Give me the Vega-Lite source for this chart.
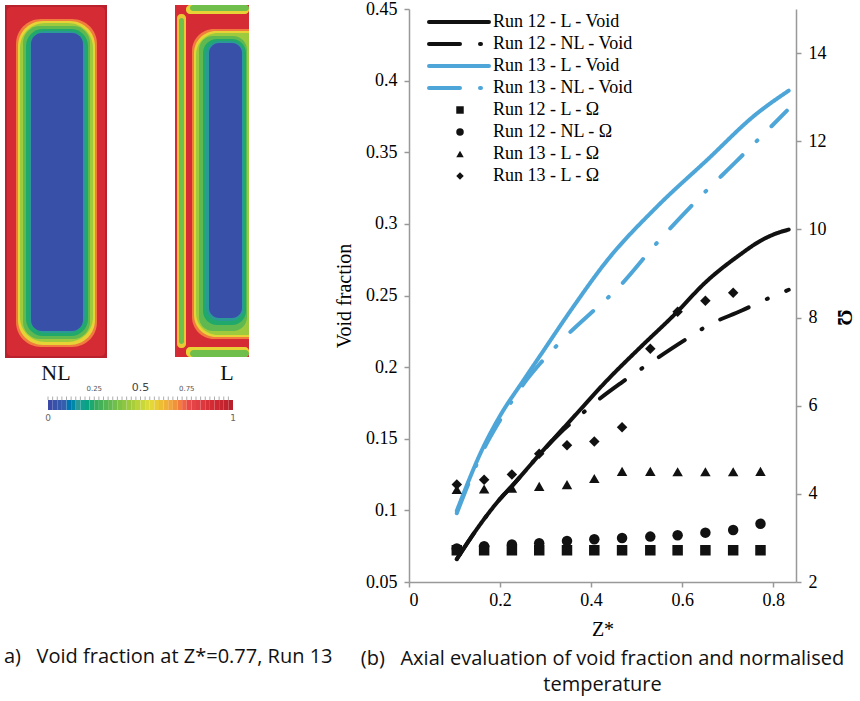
{
 "$schema": "https://vega.github.io/schema/vega-lite/v6.json",
 "padding": {"left": 0, "top": 0, "right": 2, "bottom": 8},
 "background": "white",
 "bounds": "flush",
 "spacing": 159,
 "config": {"view": {"stroke": null}, "title": {"font": "Open Sans", "fontSize": 20, "fontWeight": "normal", "color": "#111"}},
 "datasets": {
  "img": [
   {"grp": "g0", "x": 0.5, "x2": 10.7, "y": 0.5, "y2": 35.8, "v": 0.97},
   {"grp": "g0", "x": 17.5, "x2": 24.9, "y": 0.5, "y2": 35.7, "v": 0.87},
   {"grp": "g1", "x": 0.7, "x2": 10.5, "y": 0.7, "y2": 35.6, "v": 0.87},
   {"grp": "g1", "x": 17.7, "x2": 18.6, "y": 1.4, "y2": 34.8, "v": 0.58},
   {"grp": "g1", "x": 17.9, "x2": 18.4, "y": 1.8, "y2": 34.4, "v": 0.35},
   {"grp": "g1", "x": 18.6, "x2": 24.9, "y": 0.5, "y2": 1.4, "v": 0.56},
   {"grp": "g1", "x": 19.0, "x2": 24.9, "y": 0.5, "y2": 1.1, "v": 0.35},
   {"grp": "g1", "x": 18.6, "x2": 24.9, "y": 34.7, "y2": 35.7, "v": 0.56},
   {"grp": "g1", "x": 19.0, "x2": 24.9, "y": 35.0, "y2": 35.7, "v": 0.35},
   {"grp": "g2", "x": 1.6, "x2": 9.7, "y": 1.9, "y2": 34.7, "v": 0.7},
   {"grp": "g2", "x": 1.8, "x2": 9.5, "y": 2.1, "y2": 34.5, "v": 0.56},
   {"grp": "g2", "x": 2.0, "x2": 9.3, "y": 2.3, "y2": 34.2, "v": 0.43},
   {"grp": "g3", "x": 2.3, "x2": 9.0, "y": 2.6, "y2": 33.9, "v": 0.32},
   {"grp": "g3", "x": 2.6, "x2": 8.8, "y": 2.9, "y2": 33.6, "v": 0.23},
   {"grp": "g3", "x": 2.9, "x2": 8.5, "y": 3.1, "y2": 33.3, "v": 0.15},
   {"grp": "g4", "x": 3.1, "x2": 8.3, "y": 3.3, "y2": 33.1, "v": 0.02},
   {"grp": "g5", "x": 19.2, "x2": 24.9, "y": 2.9, "y2": 33.9, "v": 0.7},
   {"grp": "g5", "x": 19.4, "x2": 24.9, "y": 3.1, "y2": 33.7, "v": 0.56},
   {"grp": "g5", "x": 19.6, "x2": 24.9, "y": 3.3, "y2": 33.5, "v": 0.43},
   {"grp": "g6", "x": 19.9, "x2": 24.7, "y": 3.6, "y2": 33.1, "v": 0.32},
   {"grp": "g6", "x": 20.3, "x2": 24.6, "y": 3.9, "y2": 32.5, "v": 0.23},
   {"grp": "g6", "x": 20.6, "x2": 24.4, "y": 4.1, "y2": 32.1, "v": 0.15},
   {"grp": "g7", "x": 20.9, "x2": 24.2, "y": 4.3, "y2": 31.8, "v": 0.02}
  ],
  "cbar": [
   {"v": 0, "v2": 0.025}, {"v": 0.025, "v2": 0.05}, {"v": 0.05, "v2": 0.075}, {"v": 0.075, "v2": 0.1},
   {"v": 0.1, "v2": 0.125}, {"v": 0.125, "v2": 0.15}, {"v": 0.15, "v2": 0.175}, {"v": 0.175, "v2": 0.2},
   {"v": 0.2, "v2": 0.225}, {"v": 0.225, "v2": 0.25}, {"v": 0.25, "v2": 0.275}, {"v": 0.275, "v2": 0.3},
   {"v": 0.3, "v2": 0.325}, {"v": 0.325, "v2": 0.35}, {"v": 0.35, "v2": 0.375}, {"v": 0.375, "v2": 0.4},
   {"v": 0.4, "v2": 0.425}, {"v": 0.425, "v2": 0.45}, {"v": 0.45, "v2": 0.475}, {"v": 0.475, "v2": 0.5},
   {"v": 0.5, "v2": 0.525}, {"v": 0.525, "v2": 0.55}, {"v": 0.55, "v2": 0.575}, {"v": 0.575, "v2": 0.6},
   {"v": 0.6, "v2": 0.625}, {"v": 0.625, "v2": 0.65}, {"v": 0.65, "v2": 0.675}, {"v": 0.675, "v2": 0.7},
   {"v": 0.7, "v2": 0.725}, {"v": 0.725, "v2": 0.75}, {"v": 0.75, "v2": 0.775}, {"v": 0.775, "v2": 0.8},
   {"v": 0.8, "v2": 0.825}, {"v": 0.825, "v2": 0.85}, {"v": 0.85, "v2": 0.875}, {"v": 0.875, "v2": 0.9},
   {"v": 0.9, "v2": 0.925}, {"v": 0.925, "v2": 0.95}, {"v": 0.95, "v2": 0.975}, {"v": 0.975, "v2": 1}
  ],
  "lines": [
   {"series": "Run 12 - L - Void", "z": 0.105, "vf": 0.066}, {"series": "Run 12 - L - Void", "z": 0.135, "vf": 0.0805}, {"series": "Run 12 - L - Void", "z": 0.171, "vf": 0.0965}, {"series": "Run 12 - L - Void", "z": 0.2, "vf": 0.108}, {"series": "Run 12 - L - Void", "z": 0.229, "vf": 0.118}, {"series": "Run 12 - L - Void", "z": 0.288, "vf": 0.1395}, {"series": "Run 12 - L - Void", "z": 0.361, "vf": 0.165}, {"series": "Run 12 - L - Void", "z": 0.4345, "vf": 0.1906}, {"series": "Run 12 - L - Void", "z": 0.508, "vf": 0.2138}, {"series": "Run 12 - L - Void", "z": 0.581, "vf": 0.236}, {"series": "Run 12 - L - Void", "z": 0.654, "vf": 0.26}, {"series": "Run 12 - L - Void", "z": 0.727, "vf": 0.2785}, {"series": "Run 12 - L - Void", "z": 0.771, "vf": 0.288}, {"series": "Run 12 - L - Void", "z": 0.8, "vf": 0.2925}, {"series": "Run 12 - L - Void", "z": 0.834, "vf": 0.296},
   {"series": "Run 12 - NL - Void", "z": 0.105, "vf": 0.066}, {"series": "Run 12 - NL - Void", "z": 0.135, "vf": 0.0805}, {"series": "Run 12 - NL - Void", "z": 0.171, "vf": 0.0965}, {"series": "Run 12 - NL - Void", "z": 0.2, "vf": 0.108}, {"series": "Run 12 - NL - Void", "z": 0.229, "vf": 0.118}, {"series": "Run 12 - NL - Void", "z": 0.288, "vf": 0.1395}, {"series": "Run 12 - NL - Void", "z": 0.33, "vf": 0.1535}, {"series": "Run 12 - NL - Void", "z": 0.3795, "vf": 0.1673}, {"series": "Run 12 - NL - Void", "z": 0.409, "vf": 0.1754}, {"series": "Run 12 - NL - Void", "z": 0.4675, "vf": 0.1894}, {"series": "Run 12 - NL - Void", "z": 0.537, "vf": 0.2045}, {"series": "Run 12 - NL - Void", "z": 0.596, "vf": 0.2169}, {"series": "Run 12 - NL - Void", "z": 0.662, "vf": 0.23}, {"series": "Run 12 - NL - Void", "z": 0.731, "vf": 0.2395}, {"series": "Run 12 - NL - Void", "z": 0.768, "vf": 0.245}, {"series": "Run 12 - NL - Void", "z": 0.834, "vf": 0.254},
   {"series": "Run 13 - L - Void", "z": 0.105, "vf": 0.0997}, {"series": "Run 13 - L - Void", "z": 0.163, "vf": 0.144}, {"series": "Run 13 - L - Void", "z": 0.2, "vf": 0.166}, {"series": "Run 13 - L - Void", "z": 0.251, "vf": 0.1906}, {"series": "Run 13 - L - Void", "z": 0.288, "vf": 0.208}, {"series": "Run 13 - L - Void", "z": 0.361, "vf": 0.2422}, {"series": "Run 13 - L - Void", "z": 0.434, "vf": 0.274}, {"series": "Run 13 - L - Void", "z": 0.544, "vf": 0.3118}, {"series": "Run 13 - L - Void", "z": 0.654, "vf": 0.3444}, {"series": "Run 13 - L - Void", "z": 0.764, "vf": 0.377}, {"series": "Run 13 - L - Void", "z": 0.834, "vf": 0.393},
   {"series": "Run 13 - NL - Void", "z": 0.105, "vf": 0.098}, {"series": "Run 13 - NL - Void", "z": 0.163, "vf": 0.142}, {"series": "Run 13 - NL - Void", "z": 0.2, "vf": 0.163}, {"series": "Run 13 - NL - Void", "z": 0.251, "vf": 0.188}, {"series": "Run 13 - NL - Void", "z": 0.288, "vf": 0.2025}, {"series": "Run 13 - NL - Void", "z": 0.321, "vf": 0.2138}, {"series": "Run 13 - NL - Void", "z": 0.35, "vf": 0.2232}, {"series": "Run 13 - NL - Void", "z": 0.4015, "vf": 0.2383}, {"series": "Run 13 - NL - Void", "z": 0.432, "vf": 0.247}, {"series": "Run 13 - NL - Void", "z": 0.464, "vf": 0.257}, {"series": "Run 13 - NL - Void", "z": 0.537, "vf": 0.284}, {"series": "Run 13 - NL - Void", "z": 0.64, "vf": 0.319}, {"series": "Run 13 - NL - Void", "z": 0.72, "vf": 0.344}, {"series": "Run 13 - NL - Void", "z": 0.83, "vf": 0.379}
  ],
  "pts": [
   {"series": "Run 12 - L - Ω", "z": 0.105, "omega": 2.72}, {"series": "Run 12 - L - Ω", "z": 0.165, "omega": 2.72}, {"series": "Run 12 - L - Ω", "z": 0.226, "omega": 2.72}, {"series": "Run 12 - L - Ω", "z": 0.286, "omega": 2.72}, {"series": "Run 12 - L - Ω", "z": 0.347, "omega": 2.72}, {"series": "Run 12 - L - Ω", "z": 0.407, "omega": 2.72}, {"series": "Run 12 - L - Ω", "z": 0.468, "omega": 2.72}, {"series": "Run 12 - L - Ω", "z": 0.53, "omega": 2.72}, {"series": "Run 12 - L - Ω", "z": 0.59, "omega": 2.72}, {"series": "Run 12 - L - Ω", "z": 0.651, "omega": 2.72}, {"series": "Run 12 - L - Ω", "z": 0.712, "omega": 2.72}, {"series": "Run 12 - L - Ω", "z": 0.772, "omega": 2.72},
   {"series": "Run 12 - NL - Ω", "z": 0.105, "omega": 2.76}, {"series": "Run 12 - NL - Ω", "z": 0.165, "omega": 2.81}, {"series": "Run 12 - NL - Ω", "z": 0.226, "omega": 2.85}, {"series": "Run 12 - NL - Ω", "z": 0.286, "omega": 2.88}, {"series": "Run 12 - NL - Ω", "z": 0.347, "omega": 2.93}, {"series": "Run 12 - NL - Ω", "z": 0.407, "omega": 2.97}, {"series": "Run 12 - NL - Ω", "z": 0.468, "omega": 3.0}, {"series": "Run 12 - NL - Ω", "z": 0.53, "omega": 3.03}, {"series": "Run 12 - NL - Ω", "z": 0.59, "omega": 3.06}, {"series": "Run 12 - NL - Ω", "z": 0.651, "omega": 3.12}, {"series": "Run 12 - NL - Ω", "z": 0.712, "omega": 3.18}, {"series": "Run 12 - NL - Ω", "z": 0.772, "omega": 3.32},
   {"series": "Run 13 - L - Ω", "z": 0.105, "omega": 4.1}, {"series": "Run 13 - L - Ω", "z": 0.165, "omega": 4.11}, {"series": "Run 13 - L - Ω", "z": 0.226, "omega": 4.13}, {"series": "Run 13 - L - Ω", "z": 0.286, "omega": 4.17}, {"series": "Run 13 - L - Ω", "z": 0.347, "omega": 4.21}, {"series": "Run 13 - L - Ω", "z": 0.407, "omega": 4.35}, {"series": "Run 13 - L - Ω", "z": 0.468, "omega": 4.51}, {"series": "Run 13 - L - Ω", "z": 0.53, "omega": 4.51}, {"series": "Run 13 - L - Ω", "z": 0.59, "omega": 4.5}, {"series": "Run 13 - L - Ω", "z": 0.651, "omega": 4.5}, {"series": "Run 13 - L - Ω", "z": 0.712, "omega": 4.5}, {"series": "Run 13 - L - Ω", "z": 0.772, "omega": 4.51},
   {"series": "Run 13 - NL - Ω", "z": 0.105, "omega": 4.21}, {"series": "Run 13 - NL - Ω", "z": 0.165, "omega": 4.32}, {"series": "Run 13 - NL - Ω", "z": 0.226, "omega": 4.44}, {"series": "Run 13 - NL - Ω", "z": 0.286, "omega": 4.91}, {"series": "Run 13 - NL - Ω", "z": 0.347, "omega": 5.1}, {"series": "Run 13 - NL - Ω", "z": 0.407, "omega": 5.19}, {"series": "Run 13 - NL - Ω", "z": 0.468, "omega": 5.51}, {"series": "Run 13 - NL - Ω", "z": 0.53, "omega": 7.29}, {"series": "Run 13 - NL - Ω", "z": 0.59, "omega": 8.13}, {"series": "Run 13 - NL - Ω", "z": 0.651, "omega": 8.38}, {"series": "Run 13 - NL - Ω", "z": 0.712, "omega": 8.56}
  ]
 },
 "hconcat": [
  {
   "width": 250,
   "height": 573,
   "title": {"text": "a)\u00a0\u00a0\u00a0Void fraction at Z*=0.77, Run 13", "orient": "bottom", "anchor": "start", "offset": 65, "dx": 4},
   "resolve": {"scale": {"x": "independent"}},
   "layer": [
    {"data": {"name": "img"}, "transform": [{"filter": "datum.grp == 'g0'"}], "mark": {"type": "rect", "cornerRadius": 0},
     "encoding": {"x": {"field": "x", "type": "quantitative", "scale": {"domain": [0, 25], "nice": false, "zero": false}, "axis": null}, "x2": {"field": "x2"},
      "y": {"field": "y", "type": "quantitative", "scale": {"domain": [0.9, 58.2], "nice": false, "zero": false, "reverse": true}, "axis": null}, "y2": {"field": "y2"},
      "color": {"field": "v", "type": "quantitative", "scale": {"domain": [0, 0.08, 0.15, 0.25, 0.42, 0.54, 0.66, 0.75, 0.87, 1], "range": ["#3b4aa6", "#3560ad", "#2b9a96", "#36ab5c", "#98c93e", "#e2dd3a", "#f0a03c", "#e84a4c", "#d52b35", "#b11f29"]}, "legend": null}}},
    {"data": {"name": "img"}, "transform": [{"filter": "datum.grp == 'g1'"}], "mark": {"type": "rect", "cornerRadius": 4},
     "encoding": {"x": {"field": "x", "type": "quantitative", "scale": {"domain": [0, 25], "nice": false, "zero": false}, "axis": null}, "x2": {"field": "x2"},
      "y": {"field": "y", "type": "quantitative", "axis": null}, "y2": {"field": "y2"},
      "color": {"field": "v", "type": "quantitative", "legend": null}}},
    {"data": {"name": "img"}, "transform": [{"filter": "datum.grp == 'g2'"}], "mark": {"type": "rect", "cornerRadius": 25},
     "encoding": {"x": {"field": "x", "type": "quantitative", "scale": {"domain": [0, 25], "nice": false, "zero": false}, "axis": null}, "x2": {"field": "x2"},
      "y": {"field": "y", "type": "quantitative", "axis": null}, "y2": {"field": "y2"},
      "color": {"field": "v", "type": "quantitative", "legend": null}}},
    {"data": {"name": "img"}, "transform": [{"filter": "datum.grp == 'g3'"}], "mark": {"type": "rect", "cornerRadius": 17},
     "encoding": {"x": {"field": "x", "type": "quantitative", "scale": {"domain": [0, 25], "nice": false, "zero": false}, "axis": null}, "x2": {"field": "x2"},
      "y": {"field": "y", "type": "quantitative", "axis": null}, "y2": {"field": "y2"},
      "color": {"field": "v", "type": "quantitative", "legend": null}}},
    {"data": {"name": "img"}, "transform": [{"filter": "datum.grp == 'g4'"}], "mark": {"type": "rect", "cornerRadius": 11},
     "encoding": {"x": {"field": "x", "type": "quantitative", "scale": {"domain": [0, 25], "nice": false, "zero": false}, "axis": null}, "x2": {"field": "x2"},
      "y": {"field": "y", "type": "quantitative", "axis": null}, "y2": {"field": "y2"},
      "color": {"field": "v", "type": "quantitative", "legend": null}}},
    {"data": {"name": "img"}, "transform": [{"filter": "datum.grp == 'g5'"}], "mark": {"type": "rect", "cornerRadiusTopLeft": 22, "cornerRadiusBottomLeft": 22, "cornerRadiusTopRight": 0, "cornerRadiusBottomRight": 0},
     "encoding": {"x": {"field": "x", "type": "quantitative", "scale": {"domain": [0, 25], "nice": false, "zero": false}, "axis": null}, "x2": {"field": "x2"},
      "y": {"field": "y", "type": "quantitative", "axis": null}, "y2": {"field": "y2"},
      "color": {"field": "v", "type": "quantitative", "legend": null}}},
    {"data": {"name": "img"}, "transform": [{"filter": "datum.grp == 'g6'"}], "mark": {"type": "rect", "cornerRadius": 14},
     "encoding": {"x": {"field": "x", "type": "quantitative", "scale": {"domain": [0, 25], "nice": false, "zero": false}, "axis": null}, "x2": {"field": "x2"},
      "y": {"field": "y", "type": "quantitative", "axis": null}, "y2": {"field": "y2"},
      "color": {"field": "v", "type": "quantitative", "legend": null}}},
    {"data": {"name": "img"}, "transform": [{"filter": "datum.grp == 'g7'"}], "mark": {"type": "rect", "cornerRadius": 10},
     "encoding": {"x": {"field": "x", "type": "quantitative", "scale": {"domain": [0, 25], "nice": false, "zero": false}, "axis": null}, "x2": {"field": "x2"},
      "y": {"field": "y", "type": "quantitative", "axis": null}, "y2": {"field": "y2"},
      "color": {"field": "v", "type": "quantitative", "legend": null}}},
    {"data": {"name": "cbar"}, "mark": {"type": "rect"},
     "encoding": {"x": {"field": "v", "type": "quantitative", "scale": {"domain": [0, 1], "range": [48, 233], "nice": false, "zero": false}, "axis": null}, "x2": {"field": "v2"},
      "y": {"datum": 40.0, "type": "quantitative", "axis": null}, "y2": {"datum": 41.0},
      "color": {"field": "v", "type": "quantitative", "legend": null}}},
    {"data": {"name": "cbar"}, "mark": {"type": "rule", "color": "#999", "strokeWidth": 0.8},
     "encoding": {"x": {"field": "v", "type": "quantitative", "scale": {"domain": [0, 1], "range": [48, 233], "nice": false, "zero": false}, "axis": null},
      "y": {"datum": 39.65, "type": "quantitative", "axis": null}, "y2": {"datum": 40.0}}},
    {"data": {"values": [{"t": "0.25", "v": 0.25}, {"t": "0.75", "v": 0.75}]}, "mark": {"type": "text", "font": "DejaVu Sans", "fontSize": 7, "color": "#555", "baseline": "middle"},
     "encoding": {"x": {"field": "v", "type": "quantitative", "scale": {"domain": [0, 1], "range": [48, 233], "nice": false, "zero": false}, "axis": null},
      "y": {"datum": 38.9, "type": "quantitative", "axis": null}, "text": {"field": "t"}}},
    {"data": {"values": [{"t": "0.5", "v": 0.5}]}, "mark": {"type": "text", "font": "DejaVu Sans", "fontSize": 11, "color": "#444", "baseline": "middle"},
     "encoding": {"x": {"field": "v", "type": "quantitative", "scale": {"domain": [0, 1], "range": [48, 233], "nice": false, "zero": false}, "axis": null},
      "y": {"datum": 38.8, "type": "quantitative", "axis": null}, "text": {"field": "t"}}},
    {"data": {"values": [{"t": "0", "v": 0}, {"t": "1", "v": 1}]}, "mark": {"type": "text", "font": "DejaVu Sans", "fontSize": 9, "color": "#666", "baseline": "middle"},
     "encoding": {"x": {"field": "v", "type": "quantitative", "scale": {"domain": [0, 1], "range": [48, 233], "nice": false, "zero": false}, "axis": null},
      "y": {"datum": 41.8, "type": "quantitative", "axis": null}, "text": {"field": "t"}}},
    {"data": {"values": [{"t": "NL", "x": 5.6}, {"t": "L", "x": 22.7}]}, "mark": {"type": "text", "font": "Liberation Serif", "fontSize": 22, "color": "#111", "baseline": "middle"},
     "encoding": {"x": {"field": "x", "type": "quantitative", "scale": {"domain": [0, 25], "nice": false, "zero": false}, "axis": null},
      "y": {"datum": 37.3, "type": "quantitative", "axis": null}, "text": {"field": "t"}}}
   ]
  },
  {
   "width": 387,
   "height": 573,
   "title": {"text": ["(b)\u00a0\u00a0\u00a0Axial evaluation of void fraction and normalised", "temperature"], "orient": "bottom", "anchor": "middle", "offset": 10, "lineHeight": 26},
   "resolve": {"scale": {"y": "independent"}},
   "layer": [
    {"data": {"name": "lines"}, "mark": {"type": "line", "strokeWidth": 4, "strokeCap": "round", "strokeJoin": "round", "interpolate": "monotone"},
     "encoding": {
      "x": {"field": "z", "type": "quantitative", "scale": {"domain": [0, 0.85], "nice": false, "zero": false},
       "axis": {"values": [0, 0.2, 0.4, 0.6, 0.8], "format": ".1~f", "title": "Z*", "titleFont": "Liberation Serif", "titleFontSize": 20, "titleFontWeight": "normal", "titleColor": "#000", "titlePadding": 10,
        "labelFont": "Liberation Serif", "labelFontSize": 18, "labelColor": "#000", "labelPadding": 4, "tickSize": 5, "tickColor": "#999", "tickWidth": 1.5, "domainColor": "#999", "domainWidth": 1.5, "grid": false}},
      "y": {"field": "vf", "type": "quantitative", "scale": {"domain": [0.05, 0.45], "nice": false, "zero": false},
       "axis": {"orient": "left", "values": [0.05, 0.1, 0.15, 0.2, 0.25, 0.3, 0.35, 0.4, 0.45], "format": ".2~f", "title": "Void fraction", "titleFont": "Liberation Serif", "titleFontSize": 20, "titleFontWeight": "normal", "titleColor": "#000", "titlePadding": 11,
        "labelFont": "Liberation Serif", "labelFontSize": 18, "labelColor": "#000", "labelPadding": 7, "tickSize": 5, "tickColor": "#999", "tickWidth": 1.5, "domainColor": "#999", "domainWidth": 1.5, "grid": false}},
      "color": {"field": "series", "type": "nominal",
       "scale": {"domain": ["Run 12 - L - Void", "Run 12 - NL - Void", "Run 13 - L - Void", "Run 13 - NL - Void"], "range": ["#111111", "#111111", "#4ea6d8", "#4ea6d8"]},
       "legend": {"title": null, "orient": "none", "legendX": 38, "legendY": 1, "padding": 0, "symbolType": "M-3,0H3", "symbolSize": 400, "symbolStrokeWidth": 4, "labelFont": "Liberation Serif", "labelFontSize": 18, "labelFontWeight": "normal", "labelColor": "#000", "labelOffset": 22, "labelLimit": 400, "rowPadding": 1, "encode": {"symbols": {"update": {"strokeCap": {"value": "round"}}}}}},
      "strokeDash": {"field": "series", "type": "nominal",
       "scale": {"domain": ["Run 12 - L - Void", "Run 12 - NL - Void", "Run 13 - L - Void", "Run 13 - NL - Void"], "range": [[1, 0], [31, 20, 1, 20], [1, 0], [31, 20, 1, 20]]},
       "legend": {"title": null, "orient": "none", "legendX": 38, "legendY": 1, "padding": 0, "symbolType": "M-3,0H3", "symbolSize": 400, "symbolStrokeWidth": 4, "labelFont": "Liberation Serif", "labelFontSize": 18, "labelFontWeight": "normal", "labelColor": "#000", "labelOffset": 22, "labelLimit": 400, "rowPadding": 1, "encode": {"symbols": {"update": {"strokeCap": {"value": "round"}}}}}}
     }},
    {"data": {"name": "pts"}, "mark": {"type": "point", "filled": true, "size": 110, "color": "#111111", "opacity": 1},
     "encoding": {
      "x": {"field": "z", "type": "quantitative"},
      "y": {"field": "omega", "type": "quantitative", "scale": {"domain": [2, 15], "nice": false, "zero": false},
       "axis": {"orient": "right", "values": [2, 4, 6, 8, 10, 12, 14], "title": "Ω", "titleFont": "Liberation Serif", "titleFontSize": 20, "titleFontWeight": "bold", "titleColor": "#000", "titlePadding": 7, "titleY": 308,
        "labelFont": "Liberation Serif", "labelFontSize": 18, "labelColor": "#000", "labelPadding": 7, "tickSize": 5, "tickColor": "#999", "tickWidth": 1.5, "domainColor": "#999", "domainWidth": 1.5, "grid": false}},
      "shape": {"field": "series", "type": "nominal",
       "scale": {"domain": ["Run 12 - L - Ω", "Run 12 - NL - Ω", "Run 13 - L - Ω", "Run 13 - NL - Ω"], "range": ["square", "circle", "triangle-up", "diamond"]},
       "legend": {"title": null, "orient": "none", "legendX": 42, "legendY": 92, "padding": 0, "symbolSize": 56, "symbolFillColor": "#111111", "symbolStrokeColor": "#111111", "labelFont": "Liberation Serif", "labelFontSize": 18, "labelFontWeight": "normal", "labelColor": "#000", "labelOffset": 24, "labelLimit": 400, "rowPadding": 4,
        "labelExpr": "datum.label == 'Run 13 - NL - Ω' ? 'Run 13 - L - Ω' : datum.label"}}
     }}
   ]
  }
 ],
 "resolve": {"scale": {"color": "independent", "strokeDash": "independent", "shape": "independent"}, "legend": {"color": "independent", "strokeDash": "independent", "shape": "independent"}}
}
